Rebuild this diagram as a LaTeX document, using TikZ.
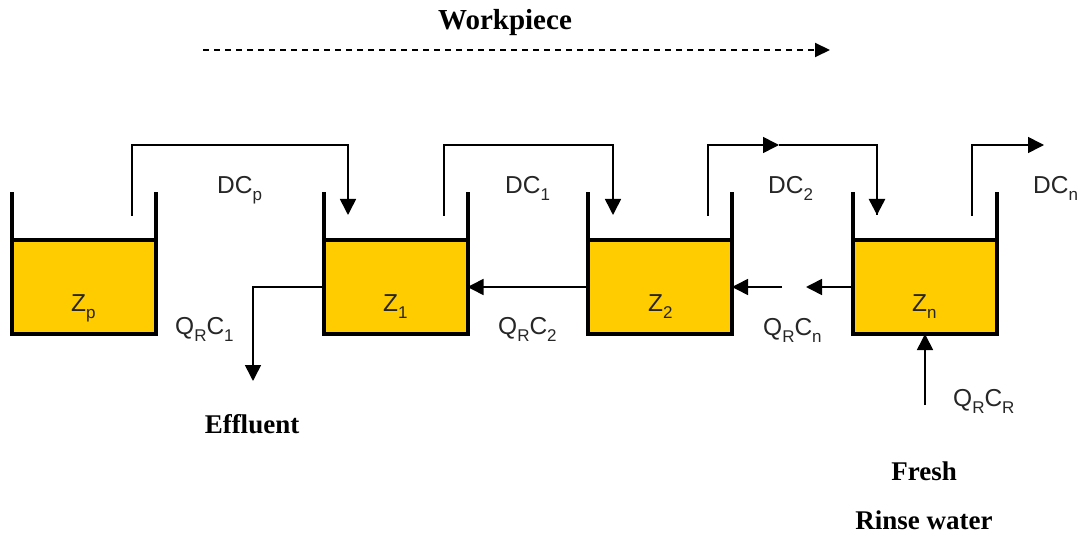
\documentclass[tikz,border=0pt]{standalone}
\usepackage{fontspec}
\setmainfont{Liberation Serif}
\setsansfont{Liberation Sans}
\usetikzlibrary{arrows.meta}
\definecolor{liq}{HTML}{FFCC00}
\newcommand\lbl[2]{#1\raisebox{-7pt}{\fontsize{17}{17}\selectfont #2}}
\begin{document}
\begin{tikzpicture}[x=1pt,y=-1pt,
  tank/.style={draw, line width=4pt, fill=liq, minimum width=144pt, minimum height=94pt, inner sep=0pt, outer sep=0pt},
  wall/.style={line width=4pt},
  pipe/.style={line width=1.6pt},
  arr/.style={-{Triangle[length=16pt,width=16pt]}},
  flab/.style={font=\sffamily\fontsize{24.5}{24}\selectfont, anchor=base west, inner sep=0pt, text=black!85},
  blab/.style={font=\bfseries\fontsize{27}{27}\selectfont, inner sep=0pt}]
\useasboundingbox (0,0) rectangle (1086,537);

% tanks
\node[tank] (Zp) at (84,287) {};
\node[tank] (Z1) at (395.5,287) {};
\node[tank] (Z2) at (660,287) {};
\node[tank] (Zn) at (925,287) {};
\foreach \t in {Zp,Z1,Z2,Zn}{
  \draw[wall] (\t.north west) -- ++(0,-48);
  \draw[wall] (\t.north east) -- ++(0,-48);
}

% tank labels
\node[flab] (lZp) at (71,311) {\lbl{Z}{p}};
\node[flab] (lZ1) at (383,311) {\lbl{Z}{1}};
\node[flab] (lZ2) at (648,311) {\lbl{Z}{2}};
\node[flab] (lZn) at (912,311) {\lbl{Z}{n}};

% drag-out coordinates
\coordinate (pOut) at (132,216);
\coordinate (oneIn) at (348,215);
\coordinate (oneOut) at (444,216);
\coordinate (twoIn) at (613,215);
\coordinate (twoOut) at (708,216);
\coordinate (twoMid) at (779,145);
\coordinate (nIn) at (877,215);
\coordinate (nOut) at (972,216);
\coordinate (nEnd) at (1044,145);

\draw[pipe,arr] (pOut) -- ++(0,-71) -| (oneIn);
\draw[pipe,arr] (oneOut) -- ++(0,-71) -| (twoIn);
\draw[pipe,arr] (twoOut) |- (twoMid);
\draw[pipe] (twoMid) -| (nIn);
\draw[line width=2.6pt,arr] (nIn |- twoMid) -- (nIn);
\draw[pipe,arr] (nOut) |- (nEnd);

% drag-out labels
\node[flab] (dcp) at (217,194) {\lbl{DC}{p}};
\node[flab] (dc1) at (505,194) {\lbl{DC}{1}};
\node[flab] (dc2) at (768,194) {\lbl{DC}{2}};
\node[flab] (dcn) at (1033,194) {\lbl{DC}{n}};

% rinse flow
\coordinate (effEnd) at (253,381);
\coordinate (gapA) at (806,287);
\coordinate (gapB) at (782,287);
\coordinate (freshStart) at (925,405);
\draw[pipe,arr] (Z1.west) -| (effEnd);
\draw[pipe,arr] (Z2.west) -- (Z1.east);
\draw[pipe,arr] (Zn.west) -- (gapA);
\draw[pipe,arr] (gapB) -- (Z2.east);
\draw[pipe,arr] (freshStart) -- (Zn.south);

\node[flab] (q1) at (175,334) {\lbl{Q}{R}\lbl{C}{1}};
\node[flab] (q2) at (498,334) {\lbl{Q}{R}\lbl{C}{2}};
\node[flab] (qn) at (763,335) {\lbl{Q}{R}\lbl{C}{n}};
\node[flab] (qr) at (953,406) {\lbl{Q}{R}\lbl{C}{R}};

% bold labels
\node[blab, font=\bfseries\fontsize{29}{29}\selectfont] (wp) at (505,23) {Workpiece};
\coordinate (wA) at (203,50);
\coordinate (wB) at (830,50);
\draw[line width=2pt, dash pattern=on 6pt off 5pt, -{Triangle[length=15pt,width=14pt]}] (wA) -- (wB);
\node[blab] (eff) at (252,424) {Effluent};
\node[blab] (fresh) at (924,471) {Fresh};
\node[blab] (rinse) at (924,520) {Rinse water};
\end{tikzpicture}
\end{document}
